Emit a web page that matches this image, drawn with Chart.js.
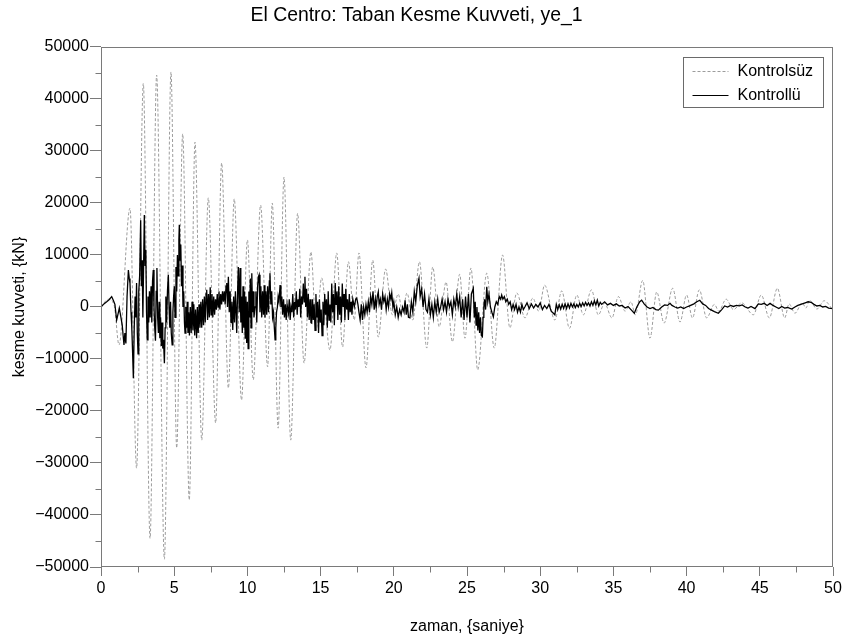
<!DOCTYPE html>
<html><head><meta charset="utf-8">
<script src="https://cdn.jsdelivr.net/npm/chart.js@4/dist/chart.umd.min.js"></script>
<style>html,body{margin:0;padding:0;background:#fff}#wrap{width:846px;height:642px}</style>
</head><body><div id="wrap"><canvas id="c" width="846" height="642"></canvas></div>
<script>
// ---------- texts ----------
const chartTitle = 'El Centro: Taban Kesme Kuvveti, ye_1';
const xAxisTitle = 'zaman, {saniye}';
const yAxisTitle = 'kesme kuvveti, {kN}';
const seriesNames = ['Kontrolsüz', 'Kontrollü'];

// ---------- tick values ----------
const xMajorTicks = [0, 5, 10, 15, 20, 25, 30, 35, 40, 45, 50];
const yMajorTicks = [-50000, -40000, -30000, -20000, -10000, 0, 10000, 20000, 30000, 40000, 50000];

// ---------- Kontrolsüz (uncontrolled) ----------
const tU = [0,0.5,0.9,1.23,1.98,2.43,2.89,3.35,3.8,4.33,
  4.78,5.17,5.58,6.03,6.42,6.88,7.33,7.83,8.24,8.7,
  9.1,9.6,10.0,10.4,10.9,11.38,11.7,12.1,12.5,12.96,
  13.43,13.87,14.34,14.7,15.07,15.64,16.1,16.5,16.9,17.3,
  17.62,18.1,18.56,18.94,19.44,19.9,20.3,20.6,20.9,21.3,
  21.75,22.25,22.66,23.1,23.57,24.0,24.5,24.86,25.27,25.73,
  26.35,26.86,27.43,27.93,28.4,28.96,29.5,29.9,30.3,31.0,
  31.47,32.0,32.5,32.95,33.5,33.97,34.4,34.9,35.34,35.8,
  36.2,36.5,37.0,37.5,37.96,38.46,39.05,39.55,40.0,40.4,
  40.87,41.37,41.9,42.2,42.7,43.2,43.76,44.56,45.1,45.65,
  46.2,46.7,47.0,47.4,47.9,48.15,48.4,48.9,49.4,50];
const vU = [0,1500,300,-7300,19000,-31000,43000,-44500,44600,-48500,
  45200,-27100,33300,-37100,31700,-25600,21000,-22300,27700,-15600,
  20800,-17900,12900,-14000,19600,-11500,20000,-23300,25000,-25600,
  18000,-10800,10600,-4400,5600,-8300,10400,-7700,8700,-2500,
  10400,-11700,9000,-5800,7300,-1500,2500,-1000,2700,-2500,
  8700,-7900,7700,-3800,4800,-6700,6300,-6000,7500,-12100,
  6500,-7900,10000,-4000,2700,-2100,1700,-800,4200,-2500,
  3100,-4100,2300,-1500,3300,-1500,700,-2100,2000,-800,
  1000,-1500,5100,-6000,2900,-3100,3600,-2900,2300,-2100,
  3300,-2100,500,-800,1500,-500,800,-1500,2300,-2100,
  3600,-2100,600,-1200,800,-200,1300,-400,1200,-600];

// ---------- Kontrollü (controlled), by time windows ----------
const tC_0_5 = [0,0.2,0.39,0.55,0.73,0.84,0.95,1.07,1.15,1.25,1.35,1.45,1.57,
  1.63,1.7,1.78,1.87,1.93,1.98,2.05,2.1,2.15,2.21,2.27,2.33,2.38,2.43,2.48,2.53,2.58,2.64,2.71,2.76,
  2.81,2.86,2.91,2.96,3.01,3.06,3.11,3.16,3.21,3.26,3.31,3.36,3.42,3.47,3.52,3.57,3.62,3.67,3.72,3.77,
  3.82,3.87,3.92,3.97,4.02,4.07,4.12,4.17,4.22,4.27,4.33,4.38,4.43,4.48,4.54,4.6,4.65,4.7,4.75,4.8,
  4.86,4.91,4.96];
const vC_0_5 = [0,600,1000,1400,2000,1300,500,-2500,-1500,-200,-1800,-3500,-7300,
  -5000,-7000,2000,7100,5500,4600,-1000,-3800,-8000,-13700,-4000,2000,-2000,4600,-5000,-9000,3000,6000,16700,4000,
  9000,-2000,8000,17700,8000,11000,-1000,-6300,2000,-3000,3000,-2000,4000,-3000,5000,7100,0,-4000,-6500,3000,
  7500,-2000,-5000,1000,-6000,-2000,-7500,-3000,-8000,-6300,-10800,-4000,2000,-3000,3000,6200,0,-4000,1000,-5000,
  -7300,-1000,2000];
const tC_5_10 = [5.01,5.06,5.12,5.17,5.22,5.27,5.32,5.35,5.4,5.45,5.5,5.55,5.6,5.65,5.7,5.74,5.79,
  5.84,5.89,5.94,5.99,6.04,6.1,6.16,6.22,6.28,6.34,6.4,6.46,6.53,6.58,6.64,6.7,6.76,6.82,6.88,6.94,
  7.0,7.06,7.12,7.18,7.22,7.28,7.34,7.4,7.46,7.52,7.58,7.64,7.7,7.76,7.82,7.88,7.94,8.0,8.06,8.12,
  8.18,8.24,8.3,8.36,8.42,8.48,8.54,8.59,8.64,8.7,8.76,8.82,8.88,8.94,9.0,9.06,9.12,9.18,9.24,9.27,
  9.33,9.38,9.44,9.5,9.55,9.6,9.65,9.7,9.75,9.8,9.85,9.9,9.95];
const vC_5_10 = [4000,-2000,7700,3000,10000,6000,13000,15800,9000,12000,4000,8000,0,3000,-3000,-5000,0,
  -4000,1000,-5000,-1000,-5500,0,-5000,1000,-4500,500,-5500,-500,-6000,0,-5000,500,-4000,1000,-4000,1500,
  -3500,2000,-3000,2500,3300,-2500,2500,-2000,3800,-1500,2500,-2000,2000,-1500,1500,-500,2500,0,3000,-500,
  2500,500,3000,1000,3000,500,4000,4600,0,5800,-1000,3000,-3000,1000,-4400,2000,-3000,3000,-2000,-5000,
  3000,7700,-1000,7500,-3000,2000,-5000,4000,-4000,3000,-6000,2000,-6900];
const tC_10_15 = [10.0,10.05,10.1,10.15,10.2,10.25,10.3,
  10.35,10.4,10.45,10.52,10.58,10.64,10.7,10.75,10.8,10.86,10.92,10.98,11.04,11.1,11.15,11.2,11.26,11.32,11.38,11.44,
  11.5,11.54,11.6,11.66,11.72,11.78,11.84,11.89,11.94,11.99,12.05,12.1,12.16,12.23,12.29,12.35,12.41,12.47,12.53,12.59,
  12.65,12.71,12.8,12.86,12.92,12.98,13.04,13.1,13.16,13.22,13.28,13.34,13.4,13.46,13.52,13.58,13.64,13.7,13.76,13.82,
  13.88,13.93,13.98,14.04,14.1,14.16,14.22,14.28,14.34,14.39,14.45,14.5,14.56,14.62,14.68,14.74,14.8,14.86,14.92,14.98];
const vC_10_15 = [1000,-8000,3000,-2000,5500,-4000,6500,
  -1000,3000,-2000,0,3000,-3000,4000,5800,6200,-1000,4000,-2000,3000,-1500,4200,-2000,3000,-1500,4000,-1000,
  5000,6500,500,3000,-2000,-1000,-4000,-6300,-4000,-1000,0,2000,1000,4200,0,2000,-1500,1500,-2000,500,
  -2500,500,-1200,1500,-2500,0,-1000,2500,-2000,1000,-500,3000,-1500,1500,0,3500,-2000,2000,500,4500,
  1000,5800,0,3500,-2000,2500,-2500,1500,-3000,-3100,1500,-2500,500,-4500,2500,-2000,1000,-5000,1500,-3000];
const tC_15_20 = [15.04,15.1,15.16,15.22,15.28,15.34,15.4,15.46,15.52,15.58,15.64,15.7,15.76,15.82,15.88,15.94,16.0,16.06,16.12,16.18,
  16.24,16.3,16.36,16.42,16.48,16.54,16.6,16.66,16.72,16.78,16.84,16.9,16.96,17.02,17.08,17.14,17.2,17.3,17.4,17.47,
  17.55,17.62,17.7,17.78,17.86,17.94,18.02,18.1,18.18,18.26,18.34,18.42,18.5,18.58,18.66,18.74,18.8,18.87,18.94,19.0,
  19.08,19.16,19.24,19.32,19.4,19.48,19.56,19.64,19.72,19.8,19.86,19.94];
const vC_15_20 = [-500,-5500,1000,-3500,2500,-1500,1500,-4000,3000,-2500,500,-3000,4500,-1000,2500,-3500,4600,500,3000,-2500,
  4000,-1500,2000,-3000,4500,0,2500,-2500,3500,-500,1500,-2500,2500,-1000,1000,-1500,1500,0,1500,1700,
  500,-1000,-2500,500,-2500,0,-1500,500,-1000,1000,-1000,2000,500,3000,-500,1500,0,2000,2900,500,
  1500,-500,2500,1000,2000,-500,1500,0,2500,1500,2700,0];
const tC_20_25 = [20.0,20.1,20.2,20.3,20.4,20.5,20.6,20.7,
  20.77,20.85,20.93,21.0,21.1,21.2,21.3,21.4,21.5,21.6,21.72,21.8,21.9,22.0,22.1,22.2,22.3,22.4,22.5,22.6,
  22.7,22.8,22.9,23.0,23.1,23.2,23.3,23.4,23.5,23.6,23.7,23.8,23.9,24.0,24.1,24.2,24.3,24.4,24.5,24.6,
  24.7,24.8,24.9];
const vC_20_25 = [1000,-1500,0,-2000,-500,-1500,0,-1000,
  1300,-1500,500,-2000,-2100,1000,-1000,3000,1000,4000,5500,2000,3500,0,2500,-500,-1000,1500,-1500,500,
  -2000,1000,-1000,1500,-1000,0,1500,-500,1000,-1000,1500,0,1000,-1500,1500,0,2500,0,2000,-2000,
  1500,-2500,2000];
const tC_25_30 = [25.0,25.1,25.2,25.3,25.43,25.5,25.56,25.62,25.68,25.74,25.8,25.86,25.92,25.98,26.05,26.1,26.15,
  26.2,26.27,26.35,26.42,26.5,26.6,26.7,26.8,26.9,27.0,27.1,27.2,27.3,27.37,27.45,27.55,27.65,27.75,27.85,27.95,
  28.05,28.15,28.25,28.35,28.45,28.55,28.65,28.75,28.85,28.95,29.1,29.25,29.4,29.55,29.7,29.85];
const vC_25_30 = [-2000,2500,-3000,2500,3600,-2000,1000,-3500,0,-4500,-1000,-5000,-2000,-5500,-5700,-2000,0,
  1500,-500,3900,1000,2500,0,-1000,-1900,0,1000,500,2000,1500,2300,1500,2000,1000,1500,500,1000,
  -500,500,-500,500,-1000,0,-1000,500,-500,0,800,-300,600,-200,500,0];
const tC_30_40 = [30.0,30.15,30.3,30.45,
  30.6,30.75,30.9,31.0,31.1,31.2,31.3,31.4,31.5,31.6,31.7,31.8,31.9,32.0,32.1,32.2,32.3,32.4,32.5,32.6,
  32.7,32.8,32.9,33.0,33.1,33.2,33.3,33.4,33.5,33.6,33.7,33.8,33.9,34.0,34.1,34.2,34.4,34.6,34.8,35.0,
  35.2,35.4,35.6,35.8,36.0,36.2,36.43,36.6,36.8,36.93,37.1,37.3,37.5,37.7,37.9,38.07,38.3,38.5,38.7,38.87,
  39.0,39.2,39.4,39.6,39.8];
const vC_30_40 = [800,-500,300,-300,
  500,-800,-1200,-1500,500,-500,400,-400,500,-300,600,-300,600,-200,700,0,600,-100,500,0,
  700,100,800,200,900,300,800,200,1000,300,1200,400,1300,200,900,500,1000,400,700,300,
  600,200,300,-200,100,-500,-1200,0,1000,1300,600,0,-300,-100,-500,-600,0,400,300,700,
  300,0,-200,0,-300];
const tC_40_50 = [40.0,40.2,40.5,40.7,40.9,41.1,41.3,41.5,41.7,41.9,42.17,42.4,42.6,42.8,43.0,
  43.2,43.4,43.6,43.8,44.0,44.2,44.4,44.67,44.9,45.1,45.3,45.5,45.7,45.9,46.1,46.3,46.5,46.7,46.9,47.18,
  47.4,47.6,47.9,48.1,48.3,48.5,48.7,48.9,49.1,49.3,49.5,49.7,50.0];
const vC_40_50 = [0,200,600,1000,1300,600,300,-300,-600,-900,-1200,-500,200,0,300,
  100,300,200,400,0,-200,100,-300,600,500,700,300,700,300,0,-300,100,-200,-100,-400,
  0,300,600,800,1000,900,500,200,300,0,100,-200,-300];

// ---------- build ----------
function pairs(ts, vs) {
  if (ts.length !== vs.length) throw new Error('length mismatch ' + ts.length + ' vs ' + vs.length + ' at ' + ts[0]);
  return ts.map((t, i) => ({x: t, y: vs[i]}));
}
const uncontrolled = pairs(tU, vU);
const controlled = [].concat(
  pairs(tC_0_5, vC_0_5), pairs(tC_5_10, vC_5_10), pairs(tC_10_15, vC_10_15),
  pairs(tC_15_20, vC_15_20), pairs(tC_20_25, vC_20_25), pairs(tC_25_30, vC_25_30),
  pairs(tC_30_40, vC_30_40), pairs(tC_40_50, vC_40_50));

const FONT = "'Liberation Sans', Arial, Helvetica, sans-serif";
const AXIS_COLOR = '#7a7a7a';
Chart.defaults.font.family = FONT;
Chart.defaults.color = '#000';

// minor tick positions (midpoints between major ticks)
const xMinor = xMajorTicks.slice(1).map((v, i) => (v + xMajorTicks[i]) / 2);
const yMinor = yMajorTicks.slice(1).map((v, i) => (v + yMajorTicks[i]) / 2);

const extras = {
  id: 'extras',
  afterDraw(chart) {
    const {ctx, chartArea: a} = chart;
    const xs = chart.scales.x, ys = chart.scales.y;
    ctx.save();
    ctx.strokeStyle = AXIS_COLOR;
    ctx.lineWidth = 1;
    const L = Math.round(a.left) + 0.5, R = Math.round(a.right) - 0.5;
    const T = Math.round(a.top) + 0.5, B = Math.round(a.bottom) - 0.5;
    ctx.strokeRect(L, T, R - L, B - T);
    ctx.beginPath();
    xMinor.forEach(v => { const p = Math.round(xs.getPixelForValue(v)) + 0.5; ctx.moveTo(p, B); ctx.lineTo(p, B + 6); });
    yMinor.forEach(v => { const p = Math.round(ys.getPixelForValue(v)) + 0.5; ctx.moveTo(L, p); ctx.lineTo(L - 6, p); });
    ctx.stroke();
    // legend box
    const bw = 140, bh = 50;
    const bx = Math.round(a.right) - 10 - bw + 0.5, by = Math.round(a.top) + 10 + 0.5;
    ctx.fillStyle = '#fff';
    ctx.fillRect(bx, by, bw, bh);
    ctx.strokeStyle = '#6a6a6a';
    ctx.strokeRect(bx, by, bw, bh);
    chart.data.datasets.forEach((ds, i) => {
      const yy = Math.round(by + 13 + i * 24) + 0.5;
      ctx.beginPath();
      ctx.strokeStyle = ds.borderColor;
      ctx.lineWidth = 1;
      ctx.setLineDash(ds.borderDash || []);
      ctx.moveTo(bx + 9, yy); ctx.lineTo(bx + 45, yy);
      ctx.stroke();
      ctx.setLineDash([]);
      ctx.fillStyle = '#000';
      ctx.font = '16px ' + FONT;
      ctx.textBaseline = 'middle';
      ctx.textAlign = 'left';
      ctx.fillText(ds.label, bx + 54, yy);
    });
    ctx.restore();
  }
};

new Chart(document.getElementById('c'), {
  type: 'line',
  data: {
    datasets: [
      {label: seriesNames[0], data: uncontrolled, borderColor: '#9c9c9c', borderWidth: 1,
       borderDash: [3, 2], pointRadius: 0, cubicInterpolationMode: 'monotone', order: 2, fill: false},
      {label: seriesNames[1], data: controlled, borderColor: '#000000', borderWidth: 1.3,
       pointRadius: 0, tension: 0, order: 1, fill: false}
    ]
  },
  options: {
    responsive: false,
    animation: false,
    devicePixelRatio: 1,
    layout: {padding: {left: 0, right: 13, top: 0, bottom: 0}},
    plugins: {
      legend: {display: false},
      tooltip: {enabled: false},
      title: {display: true, text: chartTitle, color: '#000',
        font: {size: 19.4, weight: 'normal', family: FONT}, padding: {top: 4, bottom: 19.7}}
    },
    scales: {
      x: {
        type: 'linear', min: 0, max: 50,
        afterFit: s => { s.height = 75; },
        afterBuildTicks: s => { s.ticks = xMajorTicks.map(v => ({value: v})); },
        ticks: {autoSkip: false, maxRotation: 0, padding: 3, color: '#000', font: {size: 16, family: FONT},
          callback: v => String(v)},
        grid: {drawOnChartArea: false, drawTicks: true, tickLength: 9, color: AXIS_COLOR, tickColor: AXIS_COLOR},
        border: {display: false},
        title: {display: true, text: xAxisTitle, color: '#000', font: {size: 16, family: FONT}, padding: {top: 0, bottom: 6}}
      },
      y: {
        type: 'linear', min: -50000, max: 50000,
        afterFit: s => { s.width = 101; },
        afterBuildTicks: s => { s.ticks = yMajorTicks.map(v => ({value: v})); },
        ticks: {autoSkip: false, padding: 1, color: '#000', font: {size: 16, family: FONT},
          callback: v => (v < 0 ? '\u2212' + Math.abs(v) : String(v))},
        grid: {drawOnChartArea: false, drawTicks: true, tickLength: 11, color: AXIS_COLOR, tickColor: AXIS_COLOR},
        border: {display: false},
        title: {display: true, text: yAxisTitle, color: '#000', font: {size: 16, family: FONT}, padding: {top: 10, bottom: 0}}
      }
    }
  },
  plugins: [extras]
});
</script>
</body></html>
